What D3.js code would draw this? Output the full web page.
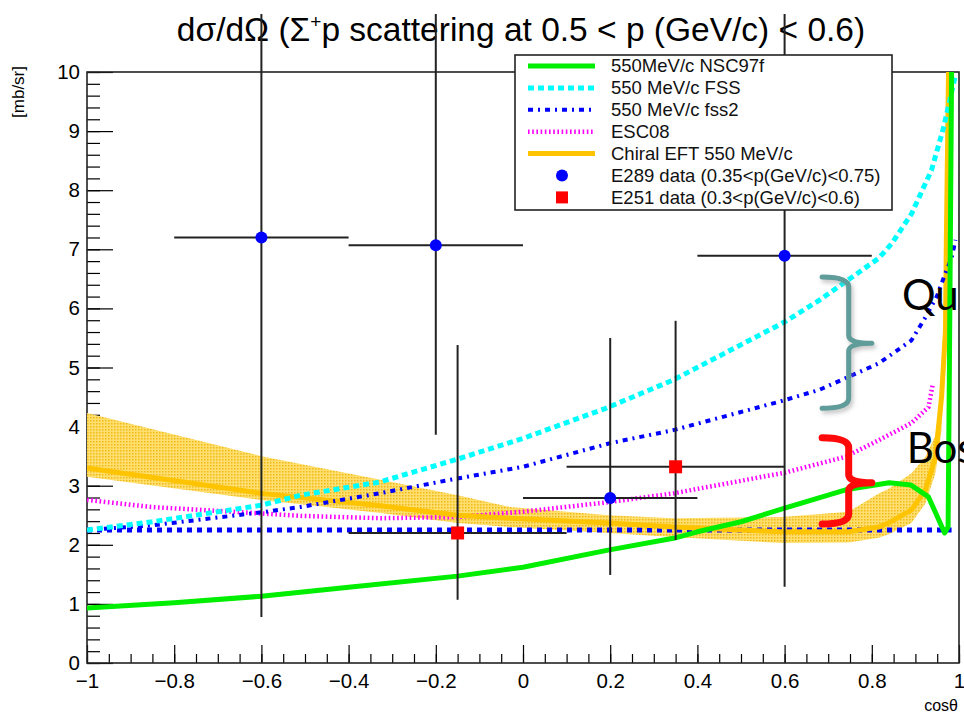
<!DOCTYPE html>
<html><head><meta charset="utf-8">
<script src="https://cdn.jsdelivr.net/npm/d3@7"></script>
<style>body{margin:0;background:#fff;} svg{display:block;}</style>
</head><body>
<svg id="chart" width="964" height="715"></svg>
<script>
// ---------------- data ----------------
const nsc97fCos = [-1, -0.8, -0.6, -0.4, -0.15, 0, 0.195, 0.345, 0.4, 0.5, 0.6, 0.74, 0.84, 0.89, 0.93, 0.955, 0.967, 0.975, 0.978, 0.983];
const nsc97fVal = [0.93, 1.02, 1.13, 1.28, 1.47, 1.62, 1.91, 2.11, 2.22, 2.39, 2.62, 2.93, 3.05, 3.01, 2.81, 2.4, 2.2, 2.3, 5.0, 10.0];

const fssCos = [-1, -0.85, -0.6, -0.51, -0.33, -0.15, 0, 0.19, 0.345, 0.6, 0.68, 0.73, 0.816, 0.846, 0.891, 0.937, 0.965, 0.992];
const fssVal = [2.25, 2.39, 2.67, 2.84, 3.06, 3.45, 3.8, 4.31, 4.79, 5.77, 6.14, 6.4, 6.85, 7.1, 7.6, 8.34, 9.07, 9.95];

const fss2Cos = [-1, -0.85, -0.6, -0.51, -0.33, -0.167, 0, 0.2, 0.345, 0.587, 0.679, 0.74, 0.816, 0.891, 0.923, 0.949, 0.969, 0.983, 0.992];
const fss2Val = [2.25, 2.33, 2.55, 2.64, 2.87, 3.1, 3.32, 3.72, 3.94, 4.42, 4.62, 4.82, 5.07, 5.46, 5.85, 6.2, 6.6, 6.85, 7.16];

const flatCos = [-1, 0.983];
const flatVal = [2.25, 2.25];

const esc08Cos = [-1, -0.853, -0.6, -0.51, -0.327, -0.15, 0, 0.195, 0.345, 0.6, 0.74, 0.816, 0.891, 0.93, 0.94];
const esc08Val = [2.76, 2.64, 2.53, 2.49, 2.45, 2.47, 2.56, 2.72, 2.87, 3.22, 3.49, 3.77, 4.06, 4.33, 4.72];

const chiralCos = [-1, -0.6, -0.327, -0.15, -0.03, 0.197, 0.345, 0.594, 0.747, 0.816, 0.839, 0.891, 0.923, 0.946, 0.96, 0.969, 0.971, 0.976];
const chiralVal = [3.3, 2.87, 2.66, 2.5, 2.45, 2.37, 2.3, 2.22, 2.22, 2.3, 2.37, 2.59, 2.93, 3.49, 4.5, 5.63, 7.16, 10];
const chiralHi  = [4.23, 3.5, 3.1, 2.84, 2.64, 2.5, 2.45, 2.47, 2.56, 2.87, 2.95, 3.21, 3.49, 3.85, 4.6, 5.7, 7.2, 10];
const chiralLo  = [3.15, 2.76, 2.54, 2.37, 2.3, 2.2, 2.13, 2.03, 2.04, 2.12, 2.18, 2.37, 2.7, 3.21, 3.94, 5.5, 7.1, 10];

const e289Cos  = [-0.6, -0.2, 0.2, 0.6];
const e289Val  = [7.2, 7.07, 2.79, 6.89];
const e289XErr = [0.2, 0.2, 0.2, 0.2];
const e289YLo  = [6.42, 3.21, 1.30, 5.6];
const e289YHi  = [9.0, 9.0, 2.71, 9.0];

const e251Cos  = [-0.15, 0.35];
const e251Val  = [2.2, 3.32];
const e251XErr = [0.25, 0.25];
const e251YLo  = [1.13, 1.24];
const e251YHi  = [3.18, 2.47];

const xTickValues = [-1, -0.8, -0.6, -0.4, -0.2, 0, 0.2, 0.4, 0.6, 0.8, 1];
const xTickLabels = ["\u22121", "\u22120.8", "\u22120.6", "\u22120.4", "\u22120.2", "0", "0.2", "0.4", "0.6", "0.8", "1"];
const yTickValues = [0, 1, 2, 3, 4, 5, 6, 7, 8, 9, 10];
const yTickLabels = ["0", "1", "2", "3", "4", "5", "6", "7", "8", "9", "10"];

const legendLabels = ["550MeV/c NSC97f", "550 MeV/c FSS", "550 MeV/c fss2", "ESC08", "Chiral EFT 550 MeV/c",
  "E289 data (0.35<p(GeV/c)<0.75)", "E251 data (0.3<p(GeV/c)<0.6)"];

// ---------------- drawing ----------------
const svg = d3.select("#chart");
const FONT = "'Liberation Sans', Arial, Helvetica, sans-serif";
const x = d3.scaleLinear().domain([-1, 1]).range([87, 959]);
const y = d3.scaleLinear().domain([0, 10]).range([663, 72]);

const defs = svg.append("defs");
defs.append("clipPath").attr("id", "plotClip").append("rect")
  .attr("x", x(-1)).attr("y", y(10)).attr("width", x(1) - x(-1)).attr("height", y(0) - y(10));
defs.append("clipPath").attr("id", "errClip").append("rect")
  .attr("x", 0).attr("y", 14).attr("width", 964).attr("height", 715);
const pat = defs.append("pattern").attr("id", "hatch").attr("width", 3).attr("height", 3)
  .attr("patternUnits", "userSpaceOnUse");
pat.append("rect").attr("width", 3).attr("height", 3).attr("fill", "#ffdf6e");
pat.append("rect").attr("width", 1.5).attr("height", 1.5).attr("fill", "#f2b818");
const shadow = defs.append("filter").attr("id", "shadow").attr("x", "-50%").attr("y", "-20%").attr("width", "200%").attr("height", "140%");
shadow.append("feDropShadow").attr("dx", 2).attr("dy", 3).attr("stdDeviation", 2).attr("flood-color", "#888").attr("flood-opacity", 0.5);

// Title
const title = svg.append("text").attr("x", 521).attr("y", 41).attr("text-anchor", "middle")
  .attr("font-family", FONT).attr("font-size", 33.5).attr("fill", "#000");
title.append("tspan").text("d\u03c3/d\u03a9 (\u03a3");
title.append("tspan").attr("font-size", 19).attr("dy", -13).text("+");
title.append("tspan").attr("dy", 13).text("p scattering at 0.5 < p (GeV/c) < 0.6)");

// Axes
const axisG = svg.append("g").attr("font-family", FONT);
const yMinor = d3.range(0, 10.001, 0.2);
axisG.append("g").attr("transform", `translate(${x(-1)},0)`)
  .call(d3.axisLeft(y).tickValues(yMinor).tickSize(-13).tickFormat(""))
  .call(g => g.select(".domain").remove());
axisG.append("g").attr("transform", `translate(${x(-1)},0)`)
  .call(d3.axisLeft(y).tickValues(yTickValues).tickSize(-26).tickPadding(7)
    .tickFormat((d, i) => yTickLabels[i]))
  .call(g => g.select(".domain").remove())
  .call(g => g.selectAll("text").attr("font-size", 20.5).attr("fill", "#000"));
const xMinor = d3.range(-1, 1.0001, 0.05);
axisG.append("g").attr("transform", `translate(0,${y(0)})`)
  .call(d3.axisBottom(x).tickValues(xMinor).tickSize(-9).tickFormat(""))
  .call(g => g.select(".domain").remove());
axisG.append("g").attr("transform", `translate(0,${y(0)})`)
  .call(d3.axisBottom(x).tickValues(xTickValues).tickSize(-18).tickPadding(10)
    .tickFormat((d, i) => xTickLabels[i]))
  .call(g => g.select(".domain").remove())
  .call(g => g.selectAll("text").attr("font-size", 20.5).attr("fill", "#000"));
axisG.selectAll(".tick line").attr("stroke", "#000").attr("stroke-width", 1.2);

// Frame
svg.append("rect").attr("x", x(-1)).attr("y", y(10)).attr("width", x(1) - x(-1)).attr("height", y(0) - y(10))
  .attr("fill", "none").attr("stroke", "#222").attr("stroke-width", 1.6);

// Axis titles
svg.append("text").attr("transform", `translate(24,${y(10) - 6}) rotate(-90)`).attr("text-anchor", "end")
  .attr("font-family", FONT).attr("font-size", 17).text("[mb/sr]");
svg.append("text").attr("x", 958).attr("y", 711).attr("text-anchor", "end")
  .attr("font-family", FONT).attr("font-size", 16).text("cos\u03b8");

// Curves
const plot = svg.append("g").attr("clip-path", "url(#plotClip)");
const line = d3.line().x(d => x(d[0])).y(d => y(d[1]));
const zip = (a, b) => a.map((v, i) => [v, b[i]]);

plot.append("path").datum(chiralCos.map((c, i) => [c, chiralLo[i], chiralHi[i]]))
  .attr("d", d3.area().x(d => x(d[0])).y0(d => y(d[1])).y1(d => y(d[2])))
  .attr("fill", "url(#hatch)").attr("stroke", "none");

const curves = [
  {c: flatCos, v: flatVal, color: "#0000ff", w: 5, dash: "5,5"},
  {c: esc08Cos, v: esc08Val, color: "#ff00ff", w: 4.5, dash: "1.6,2.6"},
  {c: chiralCos, v: chiralVal, color: "#ffc400", w: 5, dash: null},
  {c: fss2Cos, v: fss2Val, color: "#0000ff", w: 4, dash: "5,5,2,5"},
  {c: fssCos, v: fssVal, color: "#00ffff", w: 5, dash: "6,4"},
  {c: nsc97fCos, v: nsc97fVal, color: "#00ee00", w: 5, dash: null}
];
curves.forEach(s => {
  plot.append("path").datum(zip(s.c, s.v)).attr("d", line)
    .attr("fill", "none").attr("stroke", s.color).attr("stroke-width", s.w)
    .attr("stroke-dasharray", s.dash).attr("stroke-linejoin", "round");
});

// Error bars
const errG = svg.append("g").attr("clip-path", "url(#errClip)").attr("stroke", "#222").attr("stroke-width", 2);
function errBars(cs, vs, xe, ylo, yhi) {
  cs.forEach((c, i) => {
    errG.append("line").attr("x1", x(c - xe[i])).attr("x2", x(c + xe[i])).attr("y1", y(vs[i])).attr("y2", y(vs[i]));
    errG.append("line").attr("x1", x(c)).attr("x2", x(c)).attr("y1", y(vs[i] - ylo[i])).attr("y2", y(vs[i] + yhi[i]));
  });
}
errBars(e289Cos, e289Val, e289XErr, e289YLo, e289YHi);
errBars(e251Cos, e251Val, e251XErr, e251YLo, e251YHi);

svg.append("g").selectAll("circle").data(zip(e289Cos, e289Val)).join("circle")
  .attr("cx", d => x(d[0])).attr("cy", d => y(d[1])).attr("r", 6).attr("fill", "#0000ff");
svg.append("g").selectAll("rect").data(zip(e251Cos, e251Val)).join("rect")
  .attr("x", d => x(d[0]) - 6.5).attr("y", d => y(d[1]) - 6.5).attr("width", 13).attr("height", 13).attr("fill", "#ff0000");

// Legend
const lg = svg.append("g").attr("font-family", FONT);
lg.append("rect").attr("x", 515).attr("y", 55).attr("width", 377).attr("height", 155)
  .attr("fill", "#fff").attr("stroke", "#222").attr("stroke-width", 1.6);
const legendStyles = [
  {type: "line", color: "#00ee00", w: 5, dash: null},
  {type: "line", color: "#00ffff", w: 5, dash: "6,4"},
  {type: "line", color: "#0000ff", w: 4, dash: "5,5,2,5"},
  {type: "line", color: "#ff00ff", w: 4.5, dash: "1.6,2.6"},
  {type: "line", color: "#ffc400", w: 5, dash: null},
  {type: "circle", color: "#0000ff"},
  {type: "square", color: "#ff0000"}
];
legendLabels.forEach((lab, i) => {
  const yy = 66 + i * 21.9;
  const st = legendStyles[i];
  if (st.type === "line") {
    lg.append("line").attr("x1", 528).attr("x2", 595).attr("y1", yy).attr("y2", yy)
      .attr("stroke", st.color).attr("stroke-width", st.w).attr("stroke-dasharray", st.dash);
  } else if (st.type === "circle") {
    lg.append("circle").attr("cx", 562).attr("cy", yy).attr("r", 6).attr("fill", st.color);
  } else {
    lg.append("rect").attr("x", 556).attr("y", yy - 6).attr("width", 12).attr("height", 12).attr("fill", st.color);
  }
  lg.append("text").attr("x", 611).attr("y", yy).attr("dy", "0.35em").attr("font-size", 18.5)
    .attr("fill", "#111").text(lab);
});

// Annotations (braces + labels), anchored in data coordinates
function brace(cLeft, cSpine, cTip, vTop, vMid, vBot, color, w) {
  const xl = x(cLeft), xs = x(cSpine), xt = x(cTip);
  const yt = y(vTop), ym = y(vMid), yb = y(vBot);
  const p = d3.path();
  p.moveTo(xl, yt);
  p.quadraticCurveTo(xs, yt, xs, yt + 10);
  p.lineTo(xs, ym - 8);
  p.quadraticCurveTo(xs, ym, xt, ym);
  p.quadraticCurveTo(xs, ym, xs, ym + 8);
  p.lineTo(xs, yb - 10);
  p.quadraticCurveTo(xs, yb, xl, yb);
  return svg.append("path").attr("d", p.toString()).attr("fill", "none").attr("stroke", color)
    .attr("stroke-width", w).attr("stroke-linejoin", "round").attr("stroke-linecap", "round");
}
brace(0.686, 0.747, 0.80, 6.53, 5.41, 4.31, "#5f9c9a", 5).attr("filter", "url(#shadow)");
brace(0.686, 0.747, 0.80, 3.81, 3.05, 2.35, "#ff0a0a", 7);

svg.append("text").attr("x", x(0.869)).attr("y", y(5.97)).attr("font-family", "Lato, 'Open Sans', sans-serif")
  .attr("font-size", 42).attr("fill", "#000").text("Qu");
svg.append("text").attr("x", x(0.88)).attr("y", y(3.38)).attr("font-family", "Lato, 'Open Sans', sans-serif")
  .attr("font-size", 42).attr("fill", "#000").text("Bos");
</script>
</body></html>
